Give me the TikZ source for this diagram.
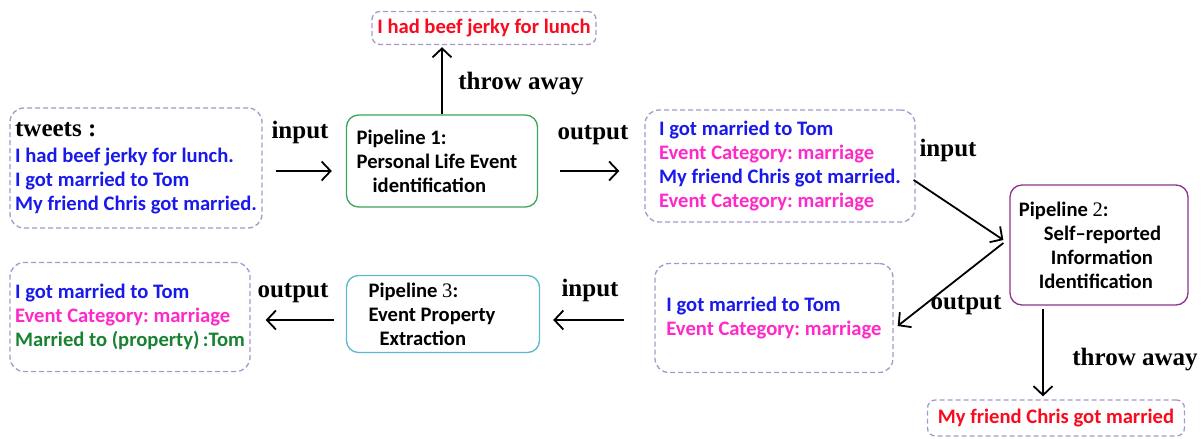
\documentclass[tikz,border=0pt]{standalone}
\usepackage{fontspec}
\setmainfont{Carlito}
\newfontfamily\labelfont{Liberation Serif}
\usetikzlibrary{arrows.meta}
\definecolor{tweetblue}{RGB}{25,25,235}
\definecolor{catpink}{RGB}{255,40,200}
\definecolor{propgreen}{RGB}{25,130,50}
\definecolor{awayred}{RGB}{250,10,30}
\definecolor{dashpurple}{RGB}{170,150,205}
\definecolor{pipegreen}{RGB}{60,165,90}
\definecolor{pipepurple}{RGB}{140,50,140}
\definecolor{pipecyan}{RGB}{90,185,205}
\frenchspacing

\begin{document}
\begin{tikzpicture}[
    x=1pt, y=-1pt,
    font=\fontsize{20.6}{24}\selectfont\bfseries,
    textbox/.style={draw=dashpurple, line width=1.3pt, dash pattern=on 5pt off 3pt,
      rounded corners=14pt, align=left, inner sep=0pt},
    pipe/.style={draw=#1, line width=1.3pt, rounded corners=12pt, align=left, inner sep=0pt},
    flow/.style={line width=1.8pt, -{Straight Barb[length=9pt,width=19pt,line width=1.8pt]}},
    word/.style={font=\labelfont\fontsize{25}{28}\selectfont\bfseries}
]
  \useasboundingbox (0,0) rectangle (1203,439);

  % boxes holding tweets
  \node[textbox, minimum width=252pt, minimum height=120pt] (tweets) at (136,168)
    {{\labelfont\fontsize{25}{28}\selectfont tweets :}\\[2pt]
     \textcolor{tweetblue}{I had beef jerky for lunch.}\\
     \textcolor{tweetblue}{I got married to Tom}\\
     \textcolor{tweetblue}{My friend Chris got married.}};
  \node[textbox, minimum width=270pt, minimum height=112pt] (events) at (780,166)
    {\textcolor{tweetblue}{I got married to Tom}\\
     \textcolor{catpink}{Event Category: marriage}\\
     \textcolor{tweetblue}{My friend Chris got married.}\\
     \textcolor{catpink}{Event Category: marriage}};
  \node[textbox, minimum width=238pt, minimum height=109pt] (selfrep) at (774,318)
    {\textcolor{tweetblue}{I got married to Tom}\\
     \textcolor{catpink}{Event Category: marriage}};
  \node[textbox, minimum width=240pt, minimum height=109pt] (result) at (130,317)
    {\textcolor{tweetblue}{I got married to Tom}\\
     \textcolor{catpink}{Event Category: marriage}\\
     \textcolor{propgreen}{Married to (property)\,:Tom}};
  \node[textbox, rounded corners=8pt, minimum width=224pt, minimum height=33pt] (away1) at (484,28)
    {\textcolor{awayred}{I had beef jerky for lunch}};
  \node[textbox, rounded corners=8pt, minimum width=257pt, minimum height=36pt] (away2) at (1056,418)
    {\textcolor{awayred}{My friend Chris got married}};

  % pipelines
  \node[pipe=pipegreen, minimum width=191pt, minimum height=92pt] (p1) at (442,161)
    {Pipeline 1:\\ Personal Life Event\rule{10pt}{0pt}\\ \hspace*{16pt}identification};
  \node[pipe=pipepurple, minimum width=178pt, minimum height=120pt] (p2) at (1099,245)
    {Pipeline {\labelfont\mdseries 2}:\\ \hspace*{25pt}Self\textendash reported\rule{18pt}{0pt}\\
     \hspace*{32pt}Information\\ \hspace*{20pt}Identification};
  \node[pipe=pipecyan, minimum width=193pt, minimum height=77pt] (p3) at (443,314)
    {Pipeline {\labelfont\mdseries 3}:\\ Event Property\rule{22pt}{0pt}\\ \hspace*{11pt}Extraction};

  % connectors
  \draw[flow] ([xshift=13pt,yshift=-3pt]tweets.east) -- ([xshift=-14pt,yshift=-10pt]p1.west);
  \draw[flow] ([xshift=22pt,yshift=-10pt]p1.east) -- ([xshift=-25pt,yshift=-5pt]events.west);
  \draw[flow, shorten >=2pt] (p1.north) -- (p1.north |- away1.south);
  \draw[flow] ([xshift=-2pt,yshift=-14pt]events.east) -- ([xshift=-6pt,yshift=5pt]p2.west);
  \draw[flow] ([xshift=-6pt,yshift=2pt]p2.west) -- ([xshift=4pt,yshift=-8pt]selfrep.east);
  \coordinate (drop) at ([xshift=-56pt,yshift=-3pt]p2.south);
  \draw[flow, shorten >=3pt] (drop) -- (drop |- away2.north);
  \draw[flow] ([xshift=-30pt,yshift=-2pt]selfrep.west) -- ([xshift=13pt,yshift=-6pt]p3.east);
  \draw[flow] ([xshift=-12pt,yshift=-6pt]p3.west) -- ([xshift=15pt,yshift=-3pt]result.east);

  % labels
  \node[word] (in1) at (300,132) {input};
  \node[word] (out1) at (593,135) {output};
  \node[word] (throw1) at (521,84) {throw away};
  \node[word] (in2) at (948,150) {input};
  \node[word] (out2) at (966,305) {output};
  \node[word] (throw2) at (1135,360) {throw away};
  \node[word] (in3) at (590,290) {input};
  \node[word] (out3) at (293,293) {output};
\end{tikzpicture}
\end{document}
